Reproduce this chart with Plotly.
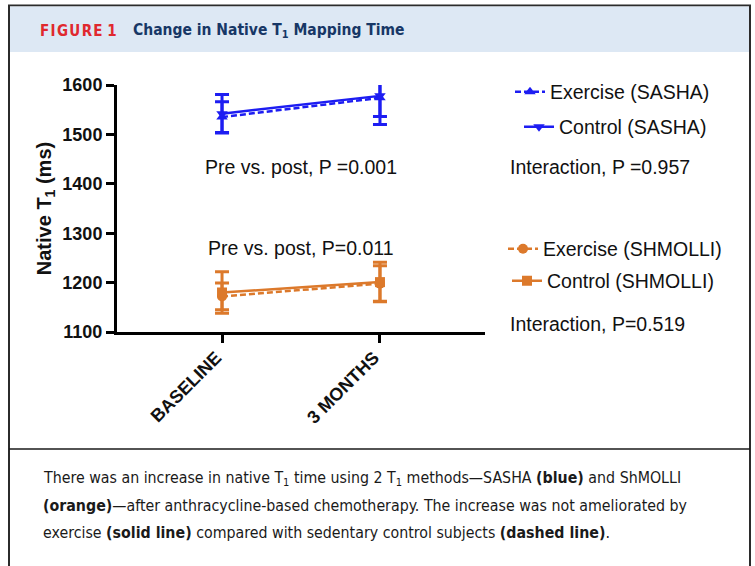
import plotly.graph_objects as go

# ---------------- data ----------------
timepoints = ["BASELINE", "3 MONTHS"]

sasha_exercise = [1535, 1574]
sasha_exercise_err = [31, 54]
sasha_control = [1542, 1578]
sasha_control_err = [39, 42]

shmolli_exercise = [1172, 1198]
shmolli_exercise_err = [27, 36]
shmolli_control = [1180, 1201]
shmolli_control_err = [42, 40]

y_ticks = [1100, 1200, 1300, 1400, 1500, 1600]

BLUE = "#1d1df2"
ORANGE = "#dc792b"

W, H = 755, 566
L, R, T, B = 117, 485, 85, 332


def px(x):
    return (x - L) / (R - L)


def py(y):
    return (B - y) / (B - T)


fig = go.Figure()


def add_series(y, err, color, dash, symbol, name, legend):
    fig.add_trace(go.Scatter(
        x=timepoints, y=y, name=name, legend=legend, showlegend=True,
        mode="lines+markers",
        line=dict(color=color, width=2.5, dash=dash),
        marker=dict(symbol=symbol, size=10, color=color),
        error_y=dict(type="data", array=err, visible=True, color=color,
                     thickness=3, width=7),
        cliponaxis=True,
    ))


add_series(sasha_exercise, sasha_exercise_err, BLUE, "6px,3px", "triangle-up",
           "Exercise (SASHA)", "legend")
add_series(sasha_control, sasha_control_err, BLUE, "solid", "triangle-down",
           "Control (SASHA)", "legend2")
add_series(shmolli_exercise, shmolli_exercise_err, ORANGE, "6px,3px", "circle",
           "Exercise (SHMOLLI)", "legend3")
add_series(shmolli_control, shmolli_control_err, ORANGE, "solid", "square",
           "Control (SHMOLLI)", "legend4")

chart_font = "Liberation Sans, Arial, sans-serif"
cond_font = "DejaVu Sans Condensed, Liberation Sans Narrow, Roboto Condensed, Arial Narrow, sans-serif"
CHART_SIZE = 19.5

leg_common = dict(font=dict(family=chart_font, size=CHART_SIZE, color="#111"),
                  bgcolor="rgba(0,0,0,0)", xanchor="left", yanchor="middle",
                  itemwidth=30, visible=True)

shapes = [
    # outer frame
    dict(type="rect", xref="paper", yref="paper", x0=px(9), x1=px(750), y0=py(5.5), y1=py(580),
         line=dict(color="#2b2b2b", width=2), fillcolor="rgba(0,0,0,0)", layer="below"),
    # header band
    dict(type="rect", xref="paper", yref="paper", x0=px(10), x1=px(749), y0=py(6.5), y1=py(52),
         line=dict(width=0), fillcolor="#dde8f4", layer="below"),
    # separator
    dict(type="line", xref="paper", yref="paper", x0=px(9), x1=px(750), y0=py(449), y1=py(449),
         line=dict(color="#1a1a1a", width=1.5)),
]

ann = []


def text(x, y, s, size=CHART_SIZE, font=chart_font, color="#111", anchor="left"):
    ann.append(dict(x=px(x), y=py(y), xref="paper", yref="paper", text=s, showarrow=False,
                    xanchor=anchor, yanchor="middle", font=dict(family=font, size=size, color=color)))


hs = "\u200a"
# header
text(38, 31, "<b>" + hs.join("FIGURE") + " 1</b>", size=15, font=cond_font, color="#e0282e")
text(131, 31, "<b>Change in Native T<sub>1</sub> Mapping Time</b>", size=15.5, font=cond_font, color="#173766")

# chart annotations
text(301, 167, "Pre vs. post, P =0.001", anchor="center")
text(301, 248, "Pre vs. post, P=0.011", anchor="center")
text(508, 167, "Interaction, P =0.957")
text(508, 324, "Interaction, P=0.519")

# caption
text(41, 478, "There was an increase in native T<sub>1</sub> time using 2 T<sub>1</sub> methods\u2014SASHA <b>(blue)</b> and ShMOLLI",
     size=15.8, font=cond_font, color="#1a1a1a")
text(41, 505, "<b>(orange)</b>\u2014after anthracycline-based chemotherapy. The increase was not ameliorated by",
     size=15.8, font=cond_font, color="#1a1a1a")
text(41, 532, "exercise <b>(solid line)</b> compared with sedentary control subjects <b>(dashed line)</b>.",
     size=15.8, font=cond_font, color="#1a1a1a")

fig.update_layout(
    width=W, height=H,
    margin=dict(l=L, r=W - R, t=T, b=H - B, pad=0),
    paper_bgcolor="white", plot_bgcolor="white",
    font=dict(family=chart_font, color="#111"),
    showlegend=True,
    shapes=shapes, annotations=ann,
    legend=dict(x=px(510), y=py(92), **leg_common),
    legend2=dict(x=px(519), y=py(127), **leg_common),
    legend3=dict(x=px(503), y=py(249), **leg_common),
    legend4=dict(x=px(507), y=py(281), **leg_common),
    xaxis=dict(type="category", range=[-0.665, 1.665], showline=True, linecolor="black",
               linewidth=3, ticks="outside", ticklen=8, tickwidth=3, tickcolor="black",
               tickangle=-45, showgrid=False, zeroline=False,
               ticklabelshift=-6, ticklabelstandoff=-3,
               tickfont=dict(family=chart_font, size=18, color="#111", weight="bold")),
    yaxis=dict(range=[1100, 1600], tickvals=y_ticks, showline=True, linecolor="black",
               linewidth=3, ticks="outside", ticklen=8, tickwidth=3, tickcolor="black",
               showgrid=False, zeroline=False,
               tickfont=dict(family=chart_font, size=18, color="#111", weight="bold"),
               title=dict(text="Native T<sub>1</sub> (ms)", standoff=6,
                          font=dict(family=chart_font, size=20, color="#111", weight="bold"))),
)

fig.write_html("out.html", config={"displayModeBar": False},
               post_script="document.body.style.margin='0';document.body.style.overflow='hidden';")
